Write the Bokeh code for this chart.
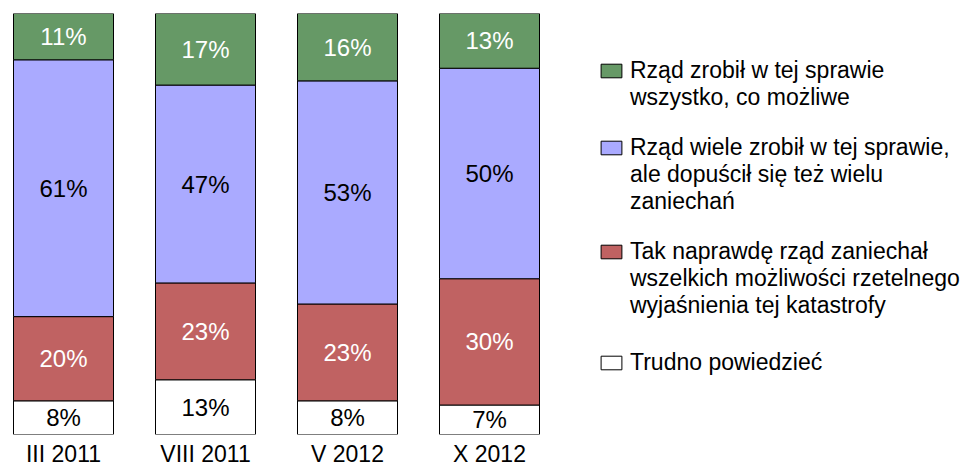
from bokeh.plotting import figure
from bokeh.models import ColumnDataSource, Legend, LegendItem, FixedTicker, Range1d
from bokeh.core.properties import value
from bokeh.embed import file_html
from bokeh.resources import INLINE

categories = ["III 2011", "VIII 2011", "V 2012", "X 2012"]
trudno = [8, 13, 8, 7]
zaniechal = [20, 23, 23, 30]
wiele = [61, 47, 53, 50]
wszystko = [11, 17, 16, 13]

# (key, values, fill colour, label colour, legend lines) stacked bottom -> top
series = [
    ("trudno", trudno, "#FFFFFF", "black", ["Trudno powiedzieć"]),
    ("zaniechal", zaniechal, "#C06262", "white",
     ["Tak naprawdę rząd zaniechał", "wszelkich możliwości rzetelnego",
      "wyjaśnienia tej katastrofy"]),
    ("wiele", wiele, "#AAAAFF", "black",
     ["Rząd wiele zrobił w tej sprawie,", "ale dopuścił się też wielu", "zaniechań"]),
    ("wszystko", wszystko, "#669966", "white",
     ["Rząd zrobił w tej sprawie", "wszystko, co możliwe"]),
]

FONT = "Liberation Sans"
W, H = 969, 469
TOP, BOTTOM = 13, 436           # frame top / bottom in canvas px
X0, STEP, BW = 63, 142, 100     # first bar centre, bar pitch, bar width (px)

xs = list(range(len(categories)))

p = figure(width=W, height=H, output_backend="svg", toolbar_location=None,
           x_range=Range1d(-X0 / STEP, (W - X0) / STEP), y_range=Range1d(0, 100),
           min_border_left=0, min_border_right=0, min_border_top=TOP,
           min_border_bottom=H - BOTTOM, y_axis_location=None)
p.outline_line_color = None
p.xgrid.grid_line_color = None
p.ygrid.grid_line_color = None

bottom = [0] * len(categories)
renderers = {}
for key, vals, color, tcolor, lines in series:
    top = [b + v for b, v in zip(bottom, vals)]
    mid = [(b + t) / 2 for b, t in zip(bottom, top)]
    src = ColumnDataSource(dict(x=xs, bottom=bottom, top=top, mid=mid,
                                txt=[f"{v}%" for v in vals]))
    r = p.vbar(x="x", width=BW / STEP, bottom="bottom", top="top", source=src,
               fill_color=color, line_color="black", line_width=1)
    p.text(x="x", y="mid", text="txt", source=src, text_align="center",
           text_baseline="middle", text_color=tcolor, text_font=value(FONT),
           text_font_size="24px")
    renderers[key] = (r, lines)
    bottom = top

# invisible renderer for continuation lines of legend labels
blank = p.vbar(x=[], top=[], width=0.1, fill_alpha=0, line_alpha=0)

LH = 28            # approx. single text line height in legend (px)
PITCH = 24         # line pitch in reference legend
first_line_y = {"wszystko": 71, "wiele": 151, "zaniechal": 255, "trudno": 364}
for key in ["wszystko", "wiele", "zaniechal", "trudno"]:
    r, lines = renderers[key]
    items = [LegendItem(label=lines[0], renderers=[r])]
    legend_bottom = first_line_y[key] + LH / 2
    if len(lines) > 1:
        items.append(LegendItem(label="\n".join(lines[1:]), renderers=[blank]))
        legend_bottom += LH + (len(lines) - 2) * PITCH
    lg = Legend(items=items, location=(598, BOTTOM - legend_bottom), padding=0, margin=0,
                spacing=0, glyph_width=26, glyph_height=17, label_standoff=6,
                label_height=20, border_line_color=None, background_fill_alpha=0,
                label_text_font=FONT, label_text_font_size="23px",
                label_text_line_height=PITCH / LH, label_text_color="black")
    p.add_layout(lg, "center")

p.xaxis.ticker = FixedTicker(ticks=xs)
p.xaxis.major_label_overrides = {i: c for i, c in enumerate(categories)}
p.xaxis.axis_line_color = None
p.xaxis.major_tick_line_color = None
p.xaxis.minor_tick_line_color = None
p.xaxis.major_tick_out = 0
p.xaxis.major_tick_in = 0
p.xaxis.major_label_standoff = 6
p.xaxis.major_label_text_font = FONT
p.xaxis.major_label_text_font_size = "23px"
p.xaxis.major_label_text_color = "black"

open("out.html", "w").write(file_html(p, INLINE))
